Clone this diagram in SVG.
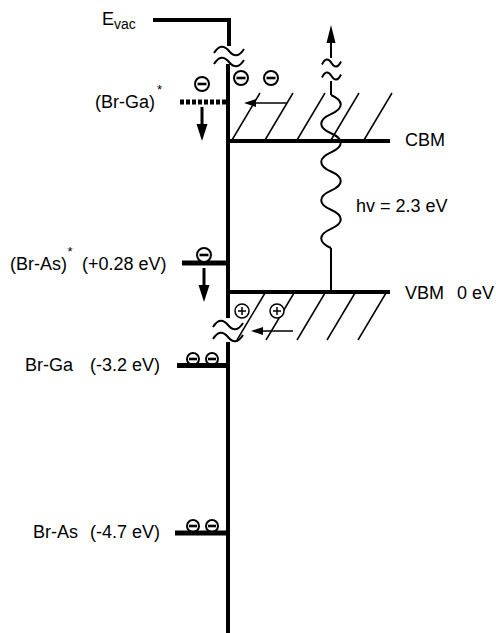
<svg xmlns="http://www.w3.org/2000/svg" width="496" height="633" viewBox="0 0 496 633">
<defs>
<style>
.t{font-family:"Liberation Sans",Arial,sans-serif;font-size:18px;fill:#000}
.st{font-family:"Liberation Sans",Arial,sans-serif;font-size:13px;fill:#000}
.thick{stroke:#000;stroke-width:4;fill:none}
.lvl{stroke:#000;stroke-width:5;fill:none}
.thin{stroke:#000;stroke-width:1.5;fill:none}
.wave{stroke:#000;stroke-width:2;fill:none}
.e{fill:#fff;stroke:#000;stroke-width:2}
.sign{stroke:#000;stroke-width:2.6}
.h{fill:#fff;stroke:#000;stroke-width:1.5}
.hs{stroke:#000;stroke-width:1.5}
</style>
<g id="minus"><circle class="e" cx="0" cy="0" r="7"/><line class="sign" x1="-4.5" y1="0" x2="4.5" y2="0"/></g>
<g id="minusS"><circle class="e" cx="0" cy="0" r="6"/><line class="sign" x1="-4" y1="0" x2="4" y2="0"/></g>
<g id="plus"><circle class="h" cx="0" cy="0" r="7"/><line class="hs" x1="-4" y1="0" x2="4" y2="0"/><line class="hs" x1="0" y1="-4" x2="0" y2="4"/></g>
<path id="tilde" d="M0 2 C5 -6 10 -6 15 0 S25 6 30 -2"/>
<path id="tildeS" d="M0 1.5 C3 -5 6.5 -5 9.5 0 S16 5 19 -1.5"/>
</defs>

<g id="axis">
<polyline class="thick" points="153,20 229,20 229,46"/>
<line class="thick" x1="228" y1="64" x2="228" y2="318"/>
<line class="thick" x1="228" y1="342" x2="228" y2="633"/>
<use href="#tilde" x="214" y="51" class="wave"/>
<use href="#tilde" x="214" y="62" class="wave"/>
<use href="#tilde" x="213" y="325" class="wave"/>
<use href="#tilde" x="213" y="337" class="wave"/>
<text class="t" x="102" y="25">E<tspan font-size="14" dy="4">vac</tspan></text>
</g>

<g id="cbm">
<line class="thick" x1="228" y1="141" x2="390" y2="141"/>
<line class="thin" x1="232" y1="140" x2="260" y2="93"/>
<line class="thin" x1="265" y1="140" x2="293" y2="93"/>
<line class="thin" x1="297" y1="140" x2="325" y2="93"/>
<line class="thin" x1="331" y1="140" x2="359" y2="93"/>
<line class="thin" x1="364" y1="140" x2="392" y2="93"/>
<use href="#minus" x="241" y="78"/>
<use href="#minus" x="271" y="78"/>
<text class="t" x="405" y="146">CBM</text>
</g>

<g id="vbm">
<line class="thick" x1="228" y1="292" x2="390" y2="292"/>
<line class="thin" x1="265" y1="293" x2="237" y2="340"/>
<line class="thin" x1="294" y1="293" x2="266" y2="340"/>
<line class="thin" x1="325" y1="293" x2="297" y2="340"/>
<line class="thin" x1="355" y1="293" x2="327" y2="340"/>
<line class="thin" x1="386" y1="293" x2="358" y2="340"/>
<use href="#plus" x="242" y="311"/>
<use href="#plus" x="277" y="311"/>
<text class="t" x="405" y="299">VBM</text>
<text class="t" x="457" y="299">0 eV</text>
</g>

<g id="brga-star">
<line stroke="#000" stroke-width="5" stroke-dasharray="4 2" x1="180" y1="102" x2="228" y2="102"/>
<use href="#minus" x="202" y="84"/>
<text class="t" x="95" y="108">(Br-Ga)</text>
<text class="st" x="157" y="94">*</text>
</g>

<g id="bras-star">
<line class="lvl" x1="182" y1="263" x2="228" y2="263"/>
<use href="#minus" x="204" y="255"/>
<text class="t" x="10" y="270">(Br-As)</text>
<text class="st" x="67.5" y="256">*</text>
<text class="t" x="82" y="270">(+0.28 eV)</text>
</g>

<g id="brga">
<use href="#minusS" x="193" y="359"/>
<use href="#minusS" x="212" y="359"/>
<line class="lvl" x1="177" y1="365.5" x2="228" y2="365.5"/>
<text class="t" x="25" y="371">Br-Ga</text>
<text class="t" x="90" y="371">(-3.2 eV)</text>
</g>

<g id="bras">
<use href="#minusS" x="193" y="526"/>
<use href="#minusS" x="212" y="526"/>
<line class="lvl" x1="175" y1="533" x2="228" y2="533"/>
<text class="t" x="33" y="538">Br-As</text>
<text class="t" x="90" y="538">(-4.7 eV)</text>
</g>

<g id="photon">
<line class="wave" x1="331" y1="292" x2="331" y2="248"/>
<path class="wave" d="M331 95 C344 100.7 344 108.4 331 114.1 C318 119.8 318 127.5 331 133.25 C344 138.9 344 146.7 331 152.4 C318 158.1 318 165.8 331 171.5 C344 177.2 344 184.9 331 190.6 C318 196.3 318 204 331 209.75 C344 215.5 344 223.2 331 228.9 C318 234.6 318 242.3 331 248"/>
<line class="wave" x1="331" y1="95" x2="331" y2="81"/>
<use href="#tildeS" x="322" y="76" class="wave"/>
<use href="#tildeS" x="322" y="63" class="wave"/>
<text class="t" x="356" y="212">hv = 2.3 eV</text>
</g>

<g id="connectors">
<line class="wave" x1="331" y1="58" x2="331" y2="40"/>
<polygon points="331,25 326.5,43 335.5,43" fill="#000"/>
<line class="thin" x1="287" y1="103" x2="254" y2="103"/>
<polygon points="244,103 256,99 256,107" fill="#000"/>
<line class="thin" x1="293" y1="331" x2="261" y2="331"/>
<polygon points="251,331 263,327 263,335" fill="#000"/>
<line stroke="#000" stroke-width="3" x1="202" y1="107" x2="202" y2="126"/>
<polygon points="202,141 196.5,124 207.5,124" fill="#000"/>
<line stroke="#000" stroke-width="3" x1="204" y1="268" x2="204" y2="287"/>
<polygon points="204,302 198.5,285 209.5,285" fill="#000"/>
</g>
</svg>
